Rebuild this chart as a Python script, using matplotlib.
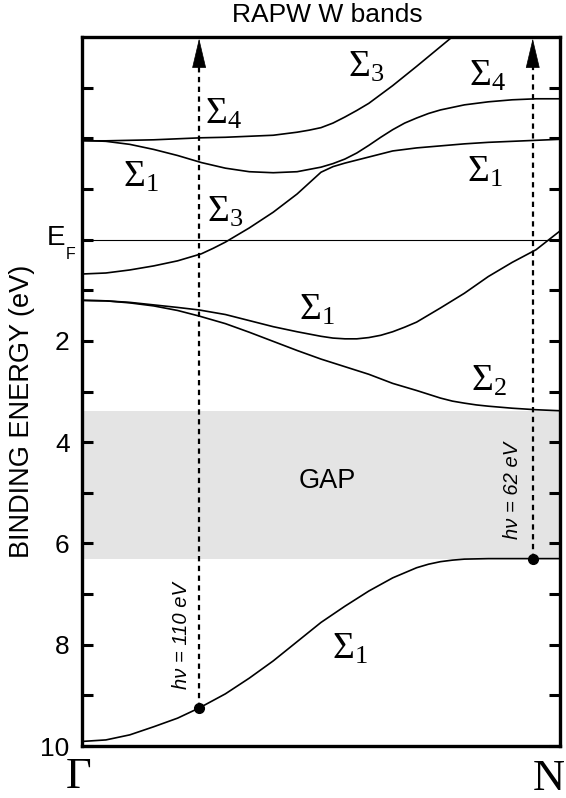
import matplotlib
matplotlib.use("Agg")
import matplotlib.pyplot as plt

plt.rcParams['font.family'] = ['Liberation Sans', 'DejaVu Sans']
plt.rcParams['mathtext.fontset'] = 'custom'
plt.rcParams['mathtext.rm'] = 'Liberation Serif'
plt.rcParams['mathtext.it'] = 'Liberation Serif:italic'

# ---- data (x: fraction of path Gamma -> N, y: binding energy in eV) ----
band_a_x = [0, 0.05, 0.10, 0.15, 0.20, 0.245, 0.30, 0.35, 0.40, 0.45, 0.50, 0.55, 0.60, 0.65,
            0.70, 0.725, 0.75, 0.775, 0.80, 0.85, 0.90, 0.95, 1.0]
band_a_y = [9.91, 9.88, 9.78, 9.62, 9.45, 9.25, 8.97, 8.66, 8.32, 7.94, 7.56, 7.24, 6.94, 6.68,
            6.48, 6.41, 6.36, 6.33, 6.31, 6.30, 6.30, 6.30, 6.30]

band_b_x = [0, 0.05, 0.10, 0.15, 0.20, 0.245, 0.30, 0.35, 0.40, 0.45, 0.50, 0.55, 0.60, 0.65,
            0.70, 0.75, 0.775, 0.80, 0.825, 0.85, 0.90, 0.95, 1.0]
band_b_y = [1.20, 1.21, 1.25, 1.31, 1.40, 1.51, 1.66, 1.83, 2.01, 2.19, 2.36, 2.51, 2.66, 2.84,
            2.98, 3.13, 3.19, 3.23, 3.265, 3.29, 3.33, 3.36, 3.38]

band_c_x = [0, 0.05, 0.10, 0.15, 0.20, 0.245, 0.30, 0.35, 0.40, 0.45, 0.50, 0.525, 0.55, 0.575,
            0.60, 0.625, 0.65, 0.675, 0.70, 0.75, 0.80, 0.85, 0.90, 0.95, 1.0]
band_c_y = [1.20, 1.21, 1.24, 1.29, 1.34, 1.39, 1.48, 1.60, 1.72, 1.82, 1.91, 1.945, 1.96, 1.96,
            1.935, 1.89, 1.82, 1.73, 1.63, 1.35, 1.06, 0.73, 0.45, 0.20, -0.17]

band_d_x = [0, 0.05, 0.10, 0.15, 0.20, 0.25, 0.275, 0.30, 0.35, 0.40, 0.45, 0.50, 0.525, 0.55,
            0.60, 0.65, 0.70, 0.75, 0.80, 0.85, 0.90, 0.95, 1.0]
band_d_y = [0.68, 0.66, 0.60, 0.52, 0.42, 0.28, 0.17, 0.05, -0.23, -0.54, -0.90, -1.33, -1.44,
            -1.51, -1.63, -1.75, -1.81, -1.85, -1.89, -1.92, -1.94, -1.96, -1.98]

band_e_x = [0, 0.05, 0.10, 0.15, 0.20, 0.25, 0.30, 0.35, 0.40, 0.45, 0.50, 0.525, 0.55, 0.575,
            0.60, 0.625, 0.65, 0.675, 0.70, 0.725, 0.75, 0.80, 0.85, 0.90, 0.95, 1.0]
band_e_y = [-1.96, -1.94, -1.88, -1.78, -1.66, -1.52, -1.41, -1.34, -1.32, -1.34, -1.43, -1.50,
            -1.59, -1.71, -1.86, -2.02, -2.17, -2.30, -2.40, -2.49, -2.56, -2.66, -2.72, -2.76,
            -2.78, -2.78]

band_f_x = [0, 0.05, 0.10, 0.15, 0.20, 0.25, 0.30, 0.35, 0.40, 0.45, 0.475, 0.50, 0.525, 0.55,
            0.575, 0.60, 0.65, 0.70, 0.75, 0.80, 0.82]
band_f_y = [-1.95, -1.95, -1.96, -1.97, -1.99, -2.01, -2.02, -2.04, -2.06, -2.12, -2.16, -2.21,
            -2.30, -2.42, -2.55, -2.69, -3.04, -3.42, -3.81, -4.20, -4.35]

gap_range = [3.38, 6.30]

photon_x = [0.245, 0.943]
photon_y = [9.25, 6.31]
photon_labels = ["hν = 110 eV", "hν = 62 eV"]
photon_label_x = [0.208, 0.900]
photon_label_y = [7.82, 4.95]

sigma_labels = [r"$\Sigma_3$", r"$\Sigma_4$", r"$\Sigma_4$", r"$\Sigma_1$", r"$\Sigma_1$",
                r"$\Sigma_3$", r"$\Sigma_1$", r"$\Sigma_2$", r"$\Sigma_1$"]
sigma_x = [0.556, 0.809, 0.258, 0.085, 0.806, 0.262, 0.455, 0.813, 0.523]
sigma_y = [-3.22, -3.05, -2.29, -1.04, -1.14, -0.35, 1.58, 2.98, 8.28]

ytick_vals = [-3, -2, -1, 0, 1, 2, 3, 4, 5, 6, 7, 8, 9, 10]
ytick_labels = ['', '', '', '', '', '2', '', '4', '', '6', '', '8', '', '10']

# ---- figure ----
W, H = 566, 798
fig = plt.figure(figsize=(W / 100, H / 100), dpi=100)
ax = fig.add_axes([82 / W, 1 - 746 / H, 478 / W, 709 / H])

ax.set_xlim(0, 1)
ax.set_ylim(10, -4)

ax.axhspan(gap_range[0], gap_range[1], color='#e4e4e4', lw=0, zorder=0)
ax.axhline(0, color='black', lw=0.8, zorder=1)

for bx, by in [(band_a_x, band_a_y), (band_b_x, band_b_y), (band_c_x, band_c_y),
               (band_d_x, band_d_y), (band_e_x, band_e_y), (band_f_x, band_f_y)]:
    ax.plot(bx, by, color='black', lw=1.2, solid_joinstyle='round', zorder=2)

for px, py in zip(photon_x, photon_y):
    ax.plot([px, px], [py, -3.45], color='black', lw=1.6, dashes=(2.4, 2.0), zorder=3)
    ax.annotate('', xy=(px, -3.97), xytext=(px, -3.40),
                arrowprops=dict(arrowstyle='-|>,head_length=1.1,head_width=0.26',
                                color='black', lw=0.5, shrinkA=0, shrinkB=0,
                                mutation_scale=18), zorder=4)
ax.plot(photon_x, photon_y, 'o', color='black', ms=7, zorder=5)

for lab, lx, ly in zip(photon_labels, photon_label_x, photon_label_y):
    ax.text(lx, ly, lab, rotation=90, ha='center', va='center',
            fontsize=14.5, style='italic')

for lab, lx, ly in zip(sigma_labels, sigma_x, sigma_y):
    ax.text(lx, ly, lab, ha='left', va='baseline', fontsize=27)

ax.text(0.514, 4.76, 'GAP', ha='center', va='center', fontsize=19.5)

ax.set_xticks([])
ax.set_yticks(ytick_vals)
ax.set_yticklabels(ytick_labels)
ax.tick_params(axis='y', direction='in', length=8, width=2.2, left=True, right=True,
               labelsize=19, pad=9)
for s in ax.spines.values():
    s.set_linewidth(2.4)

# E_F label
fig.text(65 / W, 1 - 238 / H, 'E', ha='right', va='center', fontsize=20)
fig.text(66 / W, 1 - 259 / H, 'F', ha='left', va='baseline', fontsize=11.5)

# axis labels
fig.text(22 / W, 1 - 411 / H, 'BINDING ENERGY (eV)', rotation=90, ha='center', va='center',
         fontsize=19.5)
fig.text(79 / W, 1 - 777 / H, 'Γ', ha='center', va='center', fontsize=32,
         family='Liberation Serif')
fig.text(549 / W, 1 - 779 / H, 'N', ha='center', va='center', fontsize=32,
         family='Liberation Serif')

# title
fig.text(327.5 / W, 1 - 21.5 / H, 'RAPW W bands', ha='center', va='baseline', fontsize=19)

fig.savefig('out.png', dpi=100)
